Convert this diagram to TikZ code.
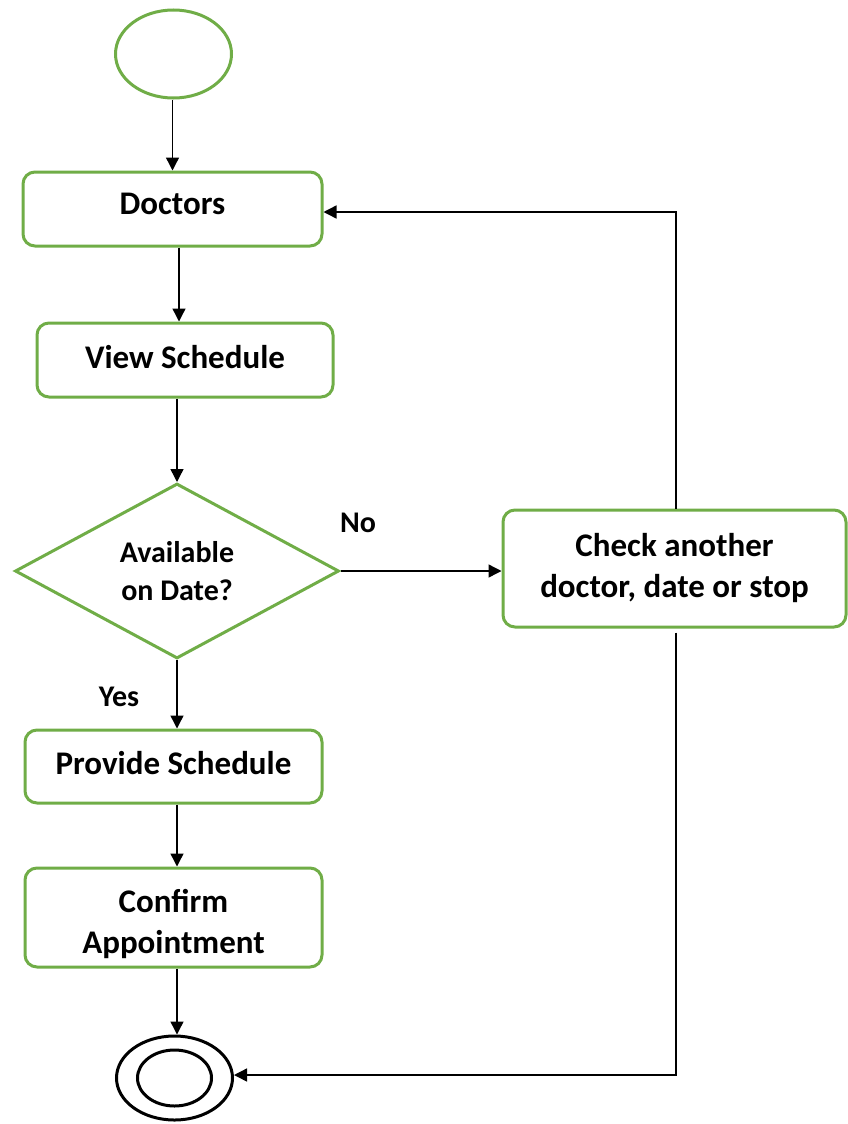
\documentclass[tikz,border=0pt]{standalone}
\usepackage{fontspec}
\setmainfont{Carlito}
\usetikzlibrary{arrows.meta,shapes.geometric}
\definecolor{leaf}{HTML}{70AD47}
\begin{document}
\begin{tikzpicture}[x=1pt,y=-1pt,
  stepbox/.style={draw=leaf, line width=3pt, rounded corners=12pt, fill=white,
    inner sep=0pt, align=center, font=\fontsize{33}{41}\selectfont\bfseries},
  decision/.style={diamond, draw=leaf, line width=3pt, aspect=1.85, inner sep=0pt,
    minimum width=324pt, minimum height=175pt, align=center,
    font=\fontsize{30}{38}\selectfont\bfseries},
  lbl/.style={inner sep=0pt, font=\fontsize{30}{36}\selectfont\bfseries},
  arr/.style={draw=black, line width=1.4pt, -{Triangle[length=13pt,width=13pt]}}]
  \useasboundingbox (0,0) rectangle (847,1124);

  % start and end states
  \node (start) [ellipse, draw=leaf, line width=3pt, minimum width=116pt,
    minimum height=88pt, inner sep=0pt] at (173.5,54) {};
  \node (end) [ellipse, draw=black, line width=3pt, minimum width=116pt,
    minimum height=84pt, inner sep=0pt] at (174.5,1078) {};
  \node (endin) [ellipse, draw=black, line width=3pt, minimum width=74pt,
    minimum height=56pt, inner sep=0pt] at (174.5,1078) {};

  % activity boxes (struts nudge the text within its box)
  \node (doctors) [stepbox, minimum width=299pt, minimum height=74pt] at (172.5,209)
    {Doctors\rule[-10pt]{0pt}{0pt}};
  \node (view) [stepbox, minimum width=296pt, minimum height=74pt] at (185,360)
    {View Schedule\rule[-6pt]{0pt}{0pt}};
  \node (avail) [decision] at (177,571) {Available\\on Date?};
  \node (check) [stepbox, minimum width=343pt, minimum height=117pt] at (674.5,568.5)
    {Check another\\doctor, date or stop};
  \node (provide) [stepbox, minimum width=297pt, minimum height=73pt] at (173.5,766.5)
    {Provide Schedule\rule[-8pt]{0pt}{0pt}};
  \node (confirm) [stepbox, minimum width=297pt, minimum height=99pt] at (173.5,917.5)
    {\rule{0pt}{37pt}Confirm\\Appointment};

  % branch labels
  \node (no) [lbl] at (358,523) {No};
  \node (yes) [lbl] at (119,697) {Yes};

  % helper columns for the vertical runs
  \coordinate (col) at (179,0);
  \coordinate (ret) at (676,0);

  % main flow
  \draw[arr] (start.south -| doctors.north) -- (doctors.north);
  \draw[arr] (doctors.south -| col) -- (view.north -| col);
  \draw[arr] (view.south -| avail.north) -- (avail.north);
  \draw[arr] (avail.east) -- (check.west |- avail.east);
  \draw[arr] (avail.south) -- (provide.north -| avail.south);
  \draw[arr] (provide.south -| avail.south) -- (confirm.north -| avail.south);
  \draw[arr] (confirm.south -| avail.south) -- (end.north -| avail.south);

  % loop back and stop
  \draw[arr] (check.north -| ret) |- ([yshift=-3pt]doctors.east);
  \draw[arr] ([yshift=-4pt]check.south -| ret) |- ([yshift=3pt]end.east);
\end{tikzpicture}
\end{document}
